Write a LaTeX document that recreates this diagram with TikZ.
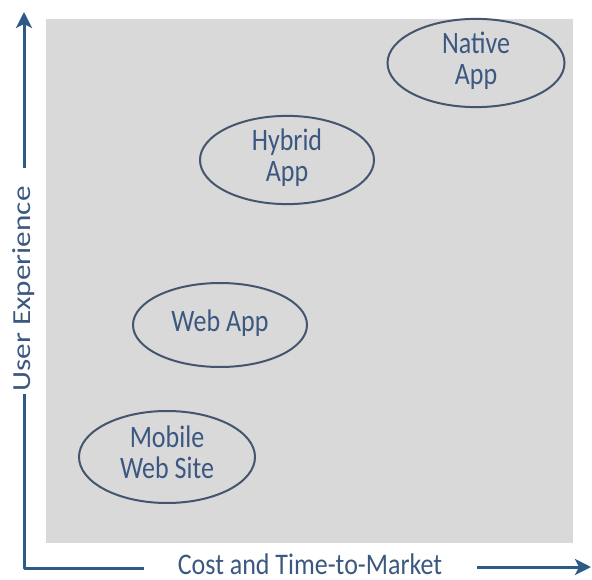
\documentclass[tikz,border=0pt]{standalone}
\usepackage{fontspec}
\usepackage{graphicx}
\setmainfont{Carlito}
\usetikzlibrary{positioning}
\usetikzlibrary{arrows.meta}
\usetikzlibrary{shapes.geometric}
\definecolor{axisblue}{HTML}{2E5A87}
\definecolor{txtblue}{HTML}{3C5880}
\definecolor{ringblue}{HTML}{44556E}
\definecolor{panel}{HTML}{D9D9D9}
\newcommand{\tallbox}[1]{\scalebox{1}[1.2]{\begin{tabular}{@{}c@{}}#1\end{tabular}}}
\tikzset{app/.style={ellipse,draw=ringblue,line width=2pt,inner sep=0pt,text=txtblue,font=\fontsize{26}{26}\selectfont}}
\tikzset{ax/.style={axisblue,line width=3pt}}
\tikzset{axlabel/.style={text=txtblue,inner sep=0pt,font=\fontsize{26}{26}\selectfont}}
\tikzset{>={Stealth[length=16pt,width=16pt,inset=4pt]}}

\begin{document}
\begin{tikzpicture}[x=1pt,y=-1pt]
\useasboundingbox (0,0) rectangle (592,580);
\fill[panel] (46,19) rectangle (573,543);

\node[app,minimum width=177pt,minimum height=86pt] (native) at (476,63) {\tallbox{Native\\App}};
\node[app,minimum width=174pt,minimum height=82pt] (hybrid) at (287,160) {\tallbox{Hybrid\\App}};
\node[app,minimum width=174pt,minimum height=84pt] (web) at (220,325) {\tallbox{Web App}};
\node[app,minimum width=176pt,minimum height=92pt] (mobile) at (167,457) {\tallbox{Mobile\\Web Site}};

\node[axlabel,rotate=90] (ux) at (24,289) {\scalebox{1.2}[1]{User Experience}};
\node[axlabel,anchor=base] (cost) at (310,574) {\scalebox{1}[1.15]{Cost and Time-to-Market}};

\coordinate (uxstart) at (24,168);
\coordinate (uxtop) at (24,12);
\coordinate (lowstart) at (24,394);
\coordinate (origin) at (24,568);
\coordinate (xend) at (144,568);
\coordinate (coststart) at (477,567);
\coordinate (costend) at (591,567);

\draw[ax,->] (uxstart) -- (uxtop);
\draw[ax,line join=round] (lowstart) -- (origin) -- (xend);
\draw[ax,->] (coststart) -- (costend);
\end{tikzpicture}
\end{document}
